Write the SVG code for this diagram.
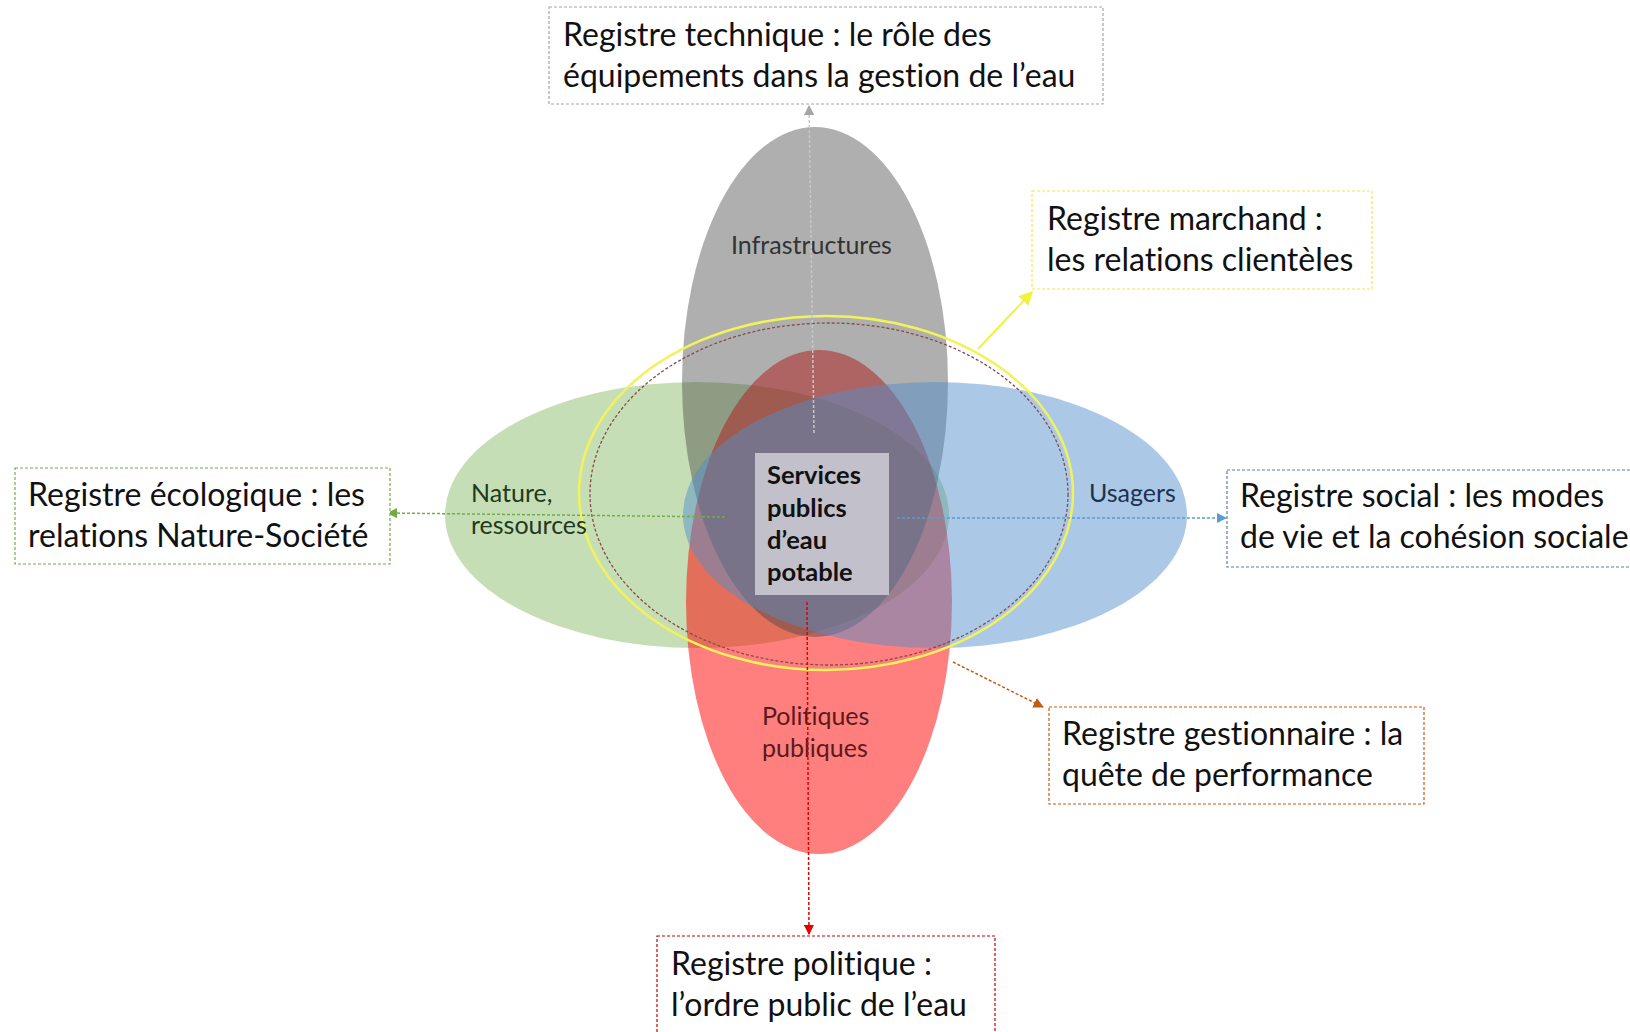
<svg xmlns="http://www.w3.org/2000/svg" width="1630" height="1032" viewBox="0 0 1630 1032">
<style>
text{font-variant-ligatures:none}
.box{fill:#fff;stroke-width:1.2;stroke-dasharray:3 2}
.bt{font-family:Lato,"Liberation Sans",sans-serif;font-size:32px;fill:#111}
.lab{font-family:Lato,"Liberation Sans",sans-serif;font-size:25px}
.ct{font-family:Lato,"Liberation Sans",sans-serif;font-size:25.5px;font-weight:bold;fill:#111}
.con{fill:none;stroke-width:1.5;stroke-dasharray:3 2}
</style>
<defs>
<marker id="mGray" viewBox="0 0 10 10" refX="9" refY="5" markerWidth="7" markerHeight="7" orient="auto"><path d="M0,0 L10,5 L0,10 z" fill="#A5A5A5"/></marker>
<marker id="mGreen" viewBox="0 0 10 10" refX="9" refY="5" markerWidth="7" markerHeight="7" orient="auto"><path d="M0,0 L10,5 L0,10 z" fill="#70AD47"/></marker>
<marker id="mBlue" viewBox="0 0 10 10" refX="9" refY="5" markerWidth="7" markerHeight="7" orient="auto"><path d="M0,0 L10,5 L0,10 z" fill="#5B9BD5"/></marker>
<marker id="mYellow" viewBox="0 0 10 10" refX="9" refY="5" markerWidth="7" markerHeight="7" orient="auto"><path d="M0,0 L10,5 L0,10 z" fill="#F2F23A"/></marker>
<marker id="mOrange" viewBox="0 0 10 10" refX="9" refY="5" markerWidth="7" markerHeight="7" orient="auto"><path d="M0,0 L10,5 L0,10 z" fill="#C55A11"/></marker>
<marker id="mRed" viewBox="0 0 10 10" refX="9" refY="5" markerWidth="7" markerHeight="7" orient="auto"><path d="M0,0 L10,5 L0,10 z" fill="#E00000"/></marker>
</defs>
<rect width="1630" height="1032" fill="#fff"/>

<g id="ellipses">
<ellipse id="nature" cx="697" cy="515" rx="252" ry="133" fill="#70AD47" fill-opacity="0.4"/>
<ellipse id="politiques" cx="819" cy="602" rx="133" ry="252" fill="#FF0000" fill-opacity="0.5"/>
<ellipse id="infrastructures" cx="815" cy="382" rx="133" ry="255" fill="#404040" fill-opacity="0.42"/>
<ellipse id="usagers" cx="935" cy="515" rx="252" ry="133" fill="#4F8FCB" fill-opacity="0.48"/>
<ellipse id="marchand-ring" cx="826" cy="493" rx="247" ry="177" fill="none" stroke="#F2F25A" stroke-width="2.5"/>
<ellipse id="gestion-ring" cx="829" cy="494" rx="239" ry="171" fill="none" stroke="#8B4A4A" stroke-width="1.3" stroke-dasharray="3 2"/>
</g>

<g id="ellipse-labels">
<text class="lab" x="731" y="254" fill="#333">Infrastructures</text>
<text class="lab" fill="#1E3A1E"><tspan x="471" y="502">Nature,</tspan><tspan x="471" y="534">ressources</tspan></text>
<text class="lab" x="1089" y="502" fill="#1F3150">Usagers</text>
<text class="lab" fill="#5A1A1A"><tspan x="762" y="725">Politiques</tspan><tspan x="762" y="757">publiques</tspan></text>
</g>

<g id="connectors">
<line class="con" x1="814" y1="433" x2="809" y2="106" stroke="#C8C8C8" marker-end="url(#mGray)"/>
<line class="con" x1="725" y1="517" x2="388" y2="513" stroke="#70AD47" marker-end="url(#mGreen)"/>
<line class="con" x1="897" y1="518" x2="1226" y2="518" stroke="#5B9BD5" marker-end="url(#mBlue)"/>
<line x1="978" y1="349" x2="1032" y2="292" stroke="#F2F23A" stroke-width="2" marker-end="url(#mYellow)"/>
<line class="con" x1="953" y1="662" x2="1043" y2="707" stroke="#C55A11" marker-end="url(#mOrange)"/>
<line class="con" x1="807" y1="602" x2="809" y2="934" stroke="#E00000" marker-end="url(#mRed)"/>
</g>

<g id="center">
<rect x="755" y="453" width="134" height="142" fill="#fff" fill-opacity="0.55"/>
<text class="ct"><tspan x="767" y="484">Services</tspan><tspan x="767" y="517">publics</tspan><tspan x="767" y="549">d’eau</tspan><tspan x="767" y="581">potable</tspan></text>
</g>

<g id="technique">
<rect class="box" x="549" y="7" width="554" height="97" stroke="#A5A5A5"/>
<text class="bt"><tspan x="563" y="46">Registre technique : le rôle des</tspan><tspan x="563" y="87">équipements dans la gestion de l’eau</tspan></text>
</g>
<g id="marchand">
<rect class="box" x="1032" y="191" width="340" height="98" stroke="#F0E84A"/>
<text class="bt"><tspan x="1047" y="230">Registre marchand :</tspan><tspan x="1047" y="271">les relations clientèles</tspan></text>
</g>
<g id="ecologique">
<rect class="box" x="15" y="468" width="375" height="96" stroke="#70AD47"/>
<text class="bt"><tspan x="28" y="506">Registre écologique : les</tspan><tspan x="28" y="547">relations Nature-Société</tspan></text>
</g>
<g id="social">
<rect class="box" x="1227" y="470" width="420" height="97" stroke="#5B7FA5"/>
<text class="bt"><tspan x="1240" y="507">Registre social : les modes</tspan><tspan x="1240" y="548">de vie et la cohésion sociale</tspan></text>
</g>
<g id="gestionnaire">
<rect class="box" x="1049" y="707" width="375" height="97" stroke="#C55A11"/>
<text class="bt"><tspan x="1062" y="745">Registre gestionnaire : la</tspan><tspan x="1062" y="786">quête de performance</tspan></text>
</g>
<g id="politique">
<rect class="box" x="657" y="936" width="338" height="110" stroke="#C00000"/>
<text class="bt"><tspan x="671" y="975">Registre politique :</tspan><tspan x="671" y="1016">l’ordre public de l’eau</tspan></text>
</g>
</svg>
